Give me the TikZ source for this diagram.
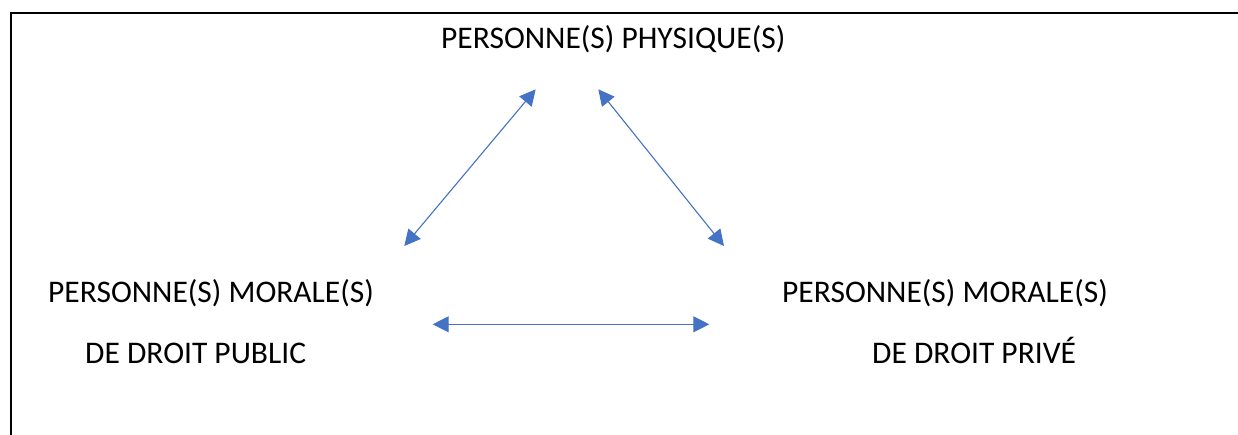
\documentclass[tikz,border=0pt]{standalone}
\usepackage{fontspec}
\setmainfont{Carlito}
\usetikzlibrary{arrows.meta}
\definecolor{arrowblue}{HTML}{4472C4}
\tikzset{
  label/.style={anchor=base west, inner sep=0pt, font=\fontsize{31.5}{32}\selectfont},
  link/.style={draw=arrowblue, line width=1.1pt, {Triangle[length=16pt,width=16pt]}-{Triangle[length=16pt,width=16pt]}},
  frame/.style={draw=black, line width=2pt}
}
\begin{document}
\begin{tikzpicture}[x=1pt,y=-1pt]
\useasboundingbox (0,0) rectangle (1238,435);
\draw[frame] (10.5,436) -- (10.5,13) -- (1240,13);
\node[label] (phys) at (441,49) {PERSONNE(S) PHYSIQUE(S)};
\node[label] (pub1) at (48,302) {PERSONNE(S) MORALE(S)};
\node[label] (pub2) at (85,363) {DE DROIT PUBLIC};
\node[label] (priv1) at (782,302) {PERSONNE(S) MORALE(S)};
\node[label] (priv2) at (872,363) {DE DROIT PRIVÉ};
\coordinate (a1) at (535.7,89.3);
\coordinate (a2) at (404.3,246);
\coordinate (b1) at (598.3,89.3);
\coordinate (b2) at (724,246);
\coordinate (c1) at (432.7,324.3);
\coordinate (c2) at (709.3,324.3);
\draw[link] (a2) -- (a1);
\draw[link] (b1) -- (b2);
\draw[link] (c1) -- (c2);
\end{tikzpicture}
\end{document}
